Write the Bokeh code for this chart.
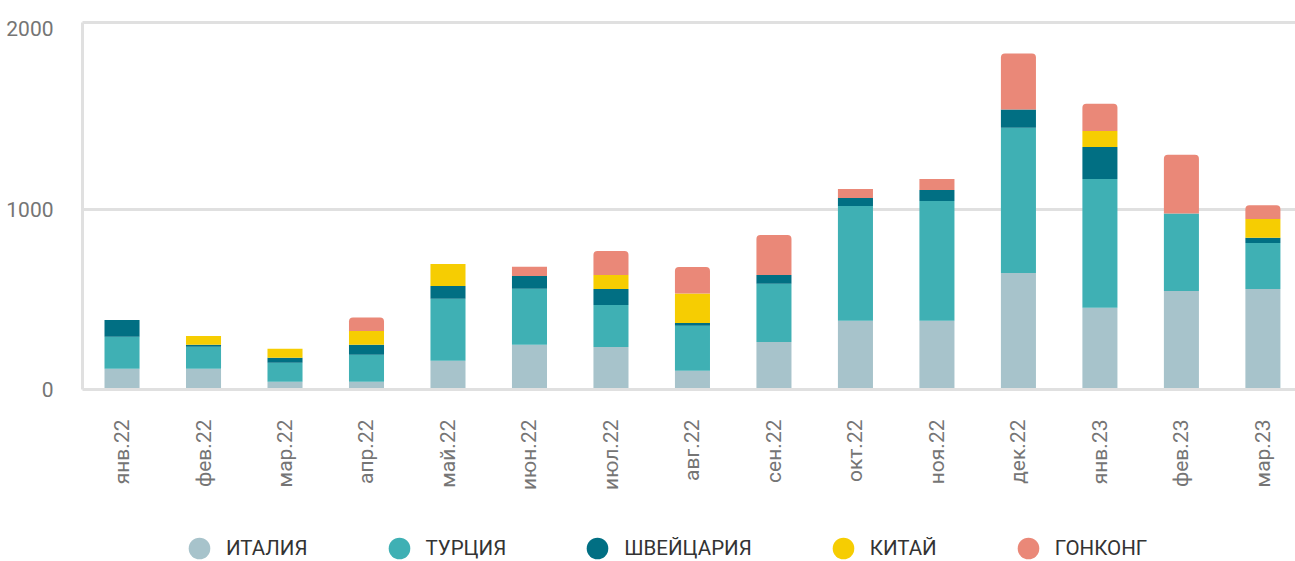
from math import pi
from bokeh.plotting import figure
from bokeh.layouts import column
from bokeh.models import (ColumnDataSource, Range1d, FixedTicker, LinearAxis, Legend,
                          LegendItem, CDSView, IndexFilter)
from bokeh.transform import stack
from bokeh.embed import file_html
from bokeh.resources import INLINE

months = ["янв.22", "фев.22", "мар.22", "апр.22", "май.22", "июн.22", "июл.22", "авг.22",
          "сен.22", "окт.22", "ноя.22", "дек.22", "янв.23", "фев.23", "мар.23"]
series_names = ["ИТАЛИЯ", "ТУРЦИЯ", "ШВЕЙЦАРИЯ", "КИТАЙ", "ГОНКОНГ"]
italy = [115, 115, 43, 43, 159, 248, 236, 104, 264, 381, 381, 646, 453, 546, 557]
turkey = [177, 122, 105, 149, 344, 310, 233, 249, 322, 636, 664, 805, 714, 430, 256]
swiss = [94, 11, 28, 56, 71, 72, 88, 16, 49, 45, 61, 101, 178, 0, 28]
china = [0, 49, 50, 77, 122, 0, 78, 163, 0, 0, 0, 0, 89, 0, 105]
hongkong = [0, 0, 0, 74, 0, 50, 133, 147, 222, 50, 61, 311, 150, 325, 76]
y_ticks = [0, 1000, 2000]

colors = ["#a7c3cb", "#3fb0b4", "#016f83", "#f6cd02", "#ea8878"]
GRID = "#e0e0e0"

src = ColumnDataSource(dict(x=list(range(len(months))), italy=italy, turkey=turkey,
                            swiss=swiss, china=china, hongkong=hongkong))

p = figure(width=1295, height=500, x_range=Range1d(-0.485, 14.40), y_range=Range1d(0, 2035),
           output_backend="svg", toolbar_location=None,
           min_border_left=82, min_border_right=0, min_border_top=22, min_border_bottom=111)
p.outline_line_color = None
p.background_fill_color = "white"
p.border_fill_color = "white"

cols = ["italy", "turkey", "swiss", "china"]
BW = 0.43
p.vbar_stack(cols, x="x", width=BW, source=src, fill_color=colors[:4], line_color=None)

rounded = [i for i, v in enumerate(hongkong) if v >= 70]
square = [i for i, v in enumerate(hongkong) if v < 70]
p.vbar(x="x", width=BW, bottom=stack(*cols), top=stack(*cols, "hongkong"), source=src,
       view=CDSView(filter=IndexFilter(rounded)), fill_color=colors[4], line_color=None,
       border_radius=(4, 4, 0, 0))
p.vbar(x="x", width=BW, bottom=stack(*cols), top=stack(*cols, "hongkong"), source=src,
       view=CDSView(filter=IndexFilter(square)), fill_color=colors[4], line_color=None)

# axes
xa = p.xaxis[0]
xa.ticker = FixedTicker(ticks=list(range(len(months))))
xa.major_label_overrides = {i: m for i, m in enumerate(months)}
xa.major_label_orientation = pi / 2
xa.major_label_text_font = "Roboto"
xa.major_label_text_font_size = "21px"
xa.major_label_text_color = "#757575"
xa.major_label_standoff = 30
xa.major_tick_line_color = None
xa.minor_tick_line_color = None
xa.major_tick_out = 0
xa.axis_line_color = GRID
xa.axis_line_width = 3

ya = p.yaxis[0]
ya.ticker = FixedTicker(ticks=y_ticks)
ya.major_label_text_font = "Roboto"
ya.major_label_text_font_size = "21px"
ya.major_label_text_color = "#757575"
ya.major_label_standoff = 29
ya.major_tick_line_color = None
ya.minor_tick_line_color = None
ya.major_tick_out = 0
ya.axis_line_color = GRID
ya.axis_line_width = 3

top_axis = LinearAxis(ticker=FixedTicker(ticks=[]), major_label_text_font_size="0px",
                      major_tick_line_color=None, minor_tick_line_color=None,
                      major_tick_out=0, major_tick_in=0, minor_tick_out=0,
                      major_label_standoff=0, axis_line_color=GRID, axis_line_width=3)
p.add_layout(top_axis, "above")

p.xgrid.visible = False
p.ygrid.ticker = FixedTicker(ticks=[1000])
p.ygrid.grid_line_color = GRID
p.ygrid.grid_line_width = 3

# legend in its own strip below the chart
lg = figure(width=1295, height=61, x_range=Range1d(0, 1), y_range=Range1d(0, 1),
            output_backend="svg", toolbar_location=None,
            x_axis_location=None, y_axis_location=None,
            min_border_left=0, min_border_right=0, min_border_top=0, min_border_bottom=0)
lg.outline_line_color = None
lg.xgrid.visible = False
lg.ygrid.visible = False
items = []
for name, c in zip(series_names, colors):
    r = lg.scatter(x=[-5], y=[-5], marker="circle", fill_color=c, line_color=None,
                   visible=False)
    items.append(LegendItem(label=name, renderers=[r]))
legend = Legend(items=items, orientation="horizontal", location=(90, -14),
                glyph_width=54, glyph_height=54, label_standoff=-7, spacing=64,
                padding=0, margin=0, border_line_color=None, background_fill_alpha=0,
                label_text_font="Roboto", label_text_font_size="20.5px",
                label_text_color="#333333", label_text_baseline="middle")
lg.add_layout(legend, "center")

page = column(p, lg, spacing=0)
open("out.html", "w").write(file_html(page, INLINE))
